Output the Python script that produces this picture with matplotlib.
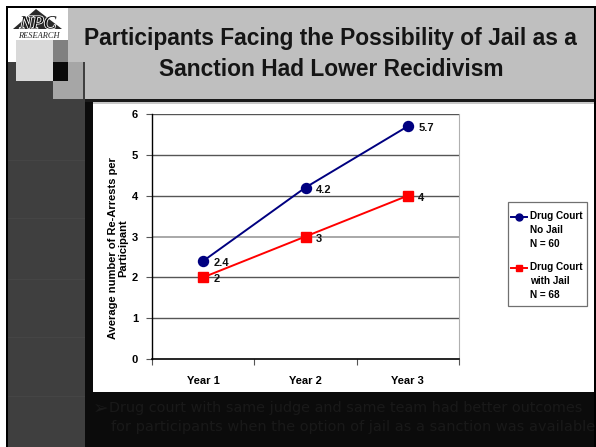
import matplotlib
matplotlib.use("Agg")
import matplotlib.pyplot as plt
import matplotlib.patheffects as pe
from matplotlib.patches import Rectangle, Polygon
from matplotlib.lines import Line2D

# ---- data ----
categories = ["Year 1", "Year 2", "Year 3"]
no_jail = [2.4, 4.2, 5.7]
with_jail = [2, 3, 4]
series_labels = ["Drug Court\nNo Jail\nN = 60", "Drug Court\nwith Jail\nN = 68"]
y_ticks = [0, 1, 2, 3, 4, 5, 6]
title_lines = ["Participants Facing the Possibility of Jail as a",
               "Sanction Had Lower Recidivism"]
y_label = "Average number of Re-Arrests per\nParticipant"
bullet_lines = ["Drug court with same judge and same team had better outcomes",
                "for participants when the option of jail as a sanction was available"]

W, H = 596, 447
fig = plt.figure(figsize=(W / 100, H / 100), dpi=100)
fig.patch.set_facecolor("white")
FONT = "Liberation Sans"


def fx(x):
    return x / W


def fy(y):
    return 1 - y / H


def rect(x0, y0, x1, y1, color, z=0, **kw):
    fig.patches.append(Rectangle((fx(x0), fy(y1)), fx(x1) - fx(x0), fy(y0) - fy(y1),
                                 transform=fig.transFigure, facecolor=color,
                                 edgecolor="none", zorder=z, **kw))


# ---- slide background ----
rect(6, 6, 596, 447, "#000000", z=0)
rect(8, 8, 594, 99, "#bfbfbf", z=1)          # title band
rect(8, 8, 68, 62, "#ffffff", z=2)           # logo area
rect(8, 62, 85, 447, "#3f3f3f", z=2)         # left strip
for yl in [160, 218, 279, 337, 396]:
    rect(8, yl, 85, yl + 1, "#454545", z=2.1)
rect(53, 62, 83, 99, "#a6a6a6", z=3)
rect(16, 40, 53, 81, "#d9d9d9", z=3)
rect(53, 40, 68, 62, "#808080", z=3)
rect(53, 62, 68, 81, "#0a0a0a", z=3.1)
rect(85, 100, 594, 447, "#0b0b0b", z=2)      # main black area
rect(85, 99, 594, 102, "#1a1a1a", z=2.2)
rect(93, 102, 594, 104, "#c8c8c8", z=2.3)
rect(93, 104, 594, 392, "#ffffff", z=2.3)    # chart panel

# logo
fig.patches.append(Polygon([(fx(13), fy(29)), (fx(36), fy(9)), (fx(62), fy(29))],
                           closed=True, transform=fig.transFigure,
                           facecolor="#2a2a2a", edgecolor="none", zorder=3))
fig.text(fx(38), fy(28.5), "NPC", family="Liberation Serif", style="italic",
         fontsize=13.5, color="#0a0a0a", ha="center", va="baseline", zorder=4,
         path_effects=[pe.withStroke(linewidth=1.2, foreground="white")])
fig.text(fx(39), fy(37.5), "RESEARCH", family="Liberation Serif", style="italic",
         fontsize=6.0, color="#222222", ha="center", va="baseline", zorder=4)

# title
fig.text(fx(330.5), fy(45), title_lines[0], family=FONT, weight="bold",
         fontsize=16.4, color="#151515", ha="center", va="baseline", zorder=5)
fig.text(fx(331), fy(76), title_lines[1], family=FONT, weight="bold",
         fontsize=16.4, color="#151515", ha="center", va="baseline", zorder=5)

# bullet text (very dark on black, as in the slide)
TXT = "#191919"
fig.text(fx(93), fy(408), "\u27a2", family="DejaVu Sans", fontsize=13.5,
         color=TXT, ha="left", va="center", zorder=5)
t1 = fig.text(fx(109), fy(408), bullet_lines[0], family="DejaVu Sans",
              fontsize=11, color=TXT, ha="left", va="center", zorder=5)
t2 = fig.text(fx(111), fy(427), bullet_lines[1], family="DejaVu Sans",
              fontsize=11, color=TXT, ha="left", va="center", zorder=5)
r = fig.canvas.get_renderer()
for t, target in [(t1, 583 - 109), (t2, 592 - 111)]:
    w = t.get_window_extent(r).width
    t.set_fontsize(11 * target / w)

# ---- chart ----
ax = fig.add_axes([fx(152), fy(359), (459 - 152) / W, (359 - 114) / H], zorder=10)
ax.set_facecolor("white")
x = list(range(1, len(categories) + 1))
ax.set_xlim(0.5, len(categories) + 0.5)
ax.set_ylim(min(y_ticks), max(y_ticks))

ax.set_yticks(y_ticks)
for yv in y_ticks[1:]:
    ax.axhline(yv, color="#a8a8a8" if yv == 3 else "#555555",
               lw=1.4 if yv == 3 else 1.0, zorder=1)

ax.plot(x, no_jail, color="#000080", marker="o", ms=7.2, lw=1.4, zorder=5,
        clip_on=False)
ax.plot(x, with_jail, color="#ff0000", marker="s", ms=7.2, lw=1.4, zorder=6,
        clip_on=False)
for xi, v in zip(x, no_jail):
    ax.annotate(f"{v:g}", (xi, v), xytext=(7.5, -1.5), textcoords="offset points",
                ha="left", va="center", family=FONT, weight="bold", fontsize=8,
                color="#111111")
for xi, v in zip(x, with_jail):
    ax.annotate(f"{v:g}", (xi, v), xytext=(7.5, -1.5), textcoords="offset points",
                ha="left", va="center", family=FONT, weight="bold", fontsize=8,
                color="#111111")

ax.set_xticks(x)
ax.set_xticklabels(categories, family=FONT, weight="bold", fontsize=8)
ax.set_xticks([i + 0.5 for i in range(0, len(categories) + 1)], minor=True)
ax.tick_params(axis="x", which="major", length=0, pad=12)
ax.tick_params(axis="x", which="minor", length=4, width=0.8, direction="out",
               color="#555555")
ax.tick_params(axis="y", length=4, width=0.8, direction="out", pad=6,
               color="#555555")
for lab in ax.get_yticklabels():
    lab.set_family(FONT)
    lab.set_weight("bold")
    lab.set_fontsize(8)

ax.spines["top"].set_visible(False)
ax.spines["right"].set_color("#b0b0b0")
ax.spines["left"].set_color("black")
ax.spines["bottom"].set_color("black")
ax.spines["left"].set_linewidth(1.0)
ax.spines["bottom"].set_linewidth(1.2)

fig.text(fx(118), fy(248), y_label, rotation=90, ha="center", va="center",
         multialignment="center", family=FONT, weight="bold", fontsize=8,
         linespacing=1.1, zorder=11)

# ---- legend ----
lx0, ly0, lx1, ly1 = 508, 202, 587, 306
fig.patches.append(Rectangle((fx(lx0), fy(ly1)), fx(lx1) - fx(lx0), fy(ly0) - fy(ly1),
                             transform=fig.transFigure, facecolor="white",
                             edgecolor="#707070", lw=0.9, zorder=12))
styles = [("#000080", "o"), ("#ff0000", "s")]
for (col, mk), lab, yc in zip(styles, series_labels, [217, 268]):
    fig.lines.append(Line2D([fx(511), fx(527)], [fy(yc), fy(yc)], color=col, lw=1.4,
                            transform=fig.transFigure, zorder=13))
    fig.lines.append(Line2D([fx(519)], [fy(yc)], color=col, marker=mk, ms=5,
                            transform=fig.transFigure, zorder=13))
    fig.text(fx(530), fy(yc - 6), lab, ha="left", va="top", family=FONT,
             weight="bold", fontsize=7.2, linespacing=1.5, zorder=13)

fig.savefig("out.png", dpi=100)
